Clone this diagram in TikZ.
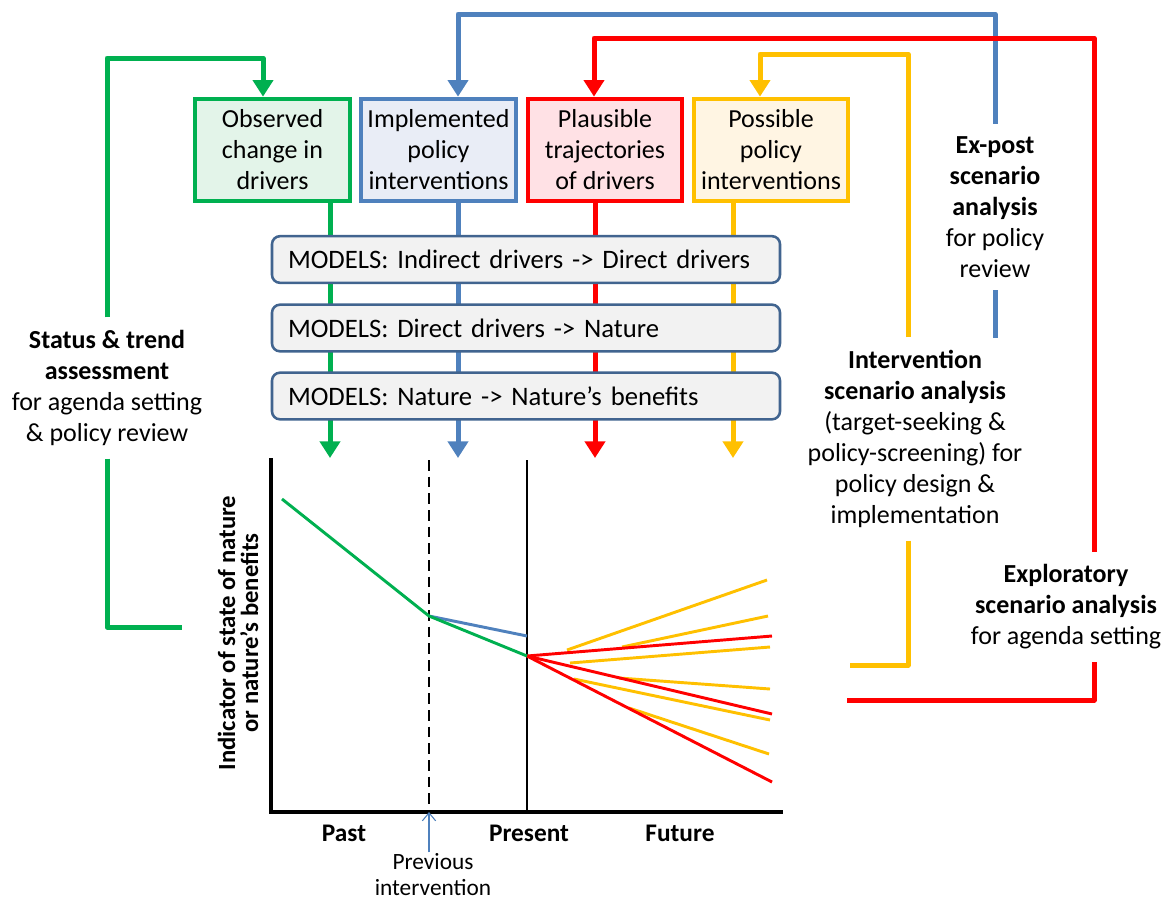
\documentclass[tikz,border=0pt]{standalone}
\usepackage{fontspec}
\setmainfont{Carlito}
\usetikzlibrary{arrows.meta}
\definecolor{cgreen}{HTML}{00B050}
\definecolor{cblue}{HTML}{4F81BD}
\definecolor{cred}{HTML}{FF0000}
\definecolor{cyellow}{HTML}{FFC000}
\definecolor{fgreen}{HTML}{E3F4E9}
\definecolor{fblue}{HTML}{E9EDF6}
\definecolor{fred}{HTML}{FFE1E5}
\definecolor{fyellow}{HTML}{FFF5E3}
\definecolor{mborder}{HTML}{41648F}
\definecolor{mfill}{HTML}{F2F2F2}
\begin{document}
\begin{tikzpicture}[x=0.75pt,y=-0.75pt,
  every node/.style={font=\fontsize{19.5}{23.25}\selectfont},
  topbox/.style={draw, line width=3pt, minimum width=116pt, minimum height=77pt, inner sep=0pt, align=center},
  modelbox/.style={draw=mborder, fill=mfill, line width=1.9pt, rounded corners=6pt, minimum height=35pt, inner xsep=12pt, text width=357pt, align=left, font=\fontsize{20}{24}\selectfont},
  conn/.style={line width=3.75pt, line join=round},
  tip/.style={-{Triangle[width=15pt,length=12.5pt]}},
  sidelabel/.style={align=center, inner xsep=0pt, inner ysep=9.5pt},
  curve/.style={line width=2.2pt},
  axislabel/.style={font=\fontsize{19}{23}\selectfont\bfseries}
]
\useasboundingbox (0,0) rectangle (1162,900);

% ---------- top boxes ----------
\node[topbox, draw=cgreen, fill=fgreen] (obs) at (272.5,150) {Observed\\change in\\drivers};
\node[topbox, draw=cblue, fill=fblue] (impl) at (438.5,150) {Implemented\\policy\\interventions};
\node[topbox, draw=cred, fill=fred] (plaus) at (605,150) {Plausible\\trajectories\\of drivers};
\node[topbox, draw=cyellow, fill=fyellow] (poss) at (771,150) {Possible\\policy\\interventions};

% ---------- side labels ----------
\node[sidelabel] (st) at (107,388) {\textbf{Status \& trend}\\\textbf{assessment}\\for agenda setting\\\& policy review};
\node[sidelabel] (ep) at (995,207) {\textbf{Ex-post}\\\textbf{scenario}\\\textbf{analysis}\\for policy\\review};
\node[sidelabel] (iv) at (915,439) {\textbf{Intervention}\\\textbf{scenario analysis}\\(target-seeking \&\\policy-screening) for\\policy design \&\\implementation};
\node[sidelabel] (ex) at (1066,607) {\textbf{Exploratory}\\\textbf{scenario analysis}\\for agenda setting};

% ---------- corner / end coordinates ----------
\coordinate (gA) at (107,58);  \coordinate (gB) at (263,58);
\coordinate (bA) at (995,14);  \coordinate (bB) at (458,14);
\coordinate (rA) at (1094,38); \coordinate (rB) at (594,38);
\coordinate (yA) at (908,54);  \coordinate (yB) at (760,54);
\coordinate (gEnd) at (182,627);
\coordinate (bEnd) at (995,338);
\coordinate (yEnd) at (850,665);
\coordinate (rEnd) at (847,700);
\coordinate (gT) at (330,458);
\coordinate (bT) at (458,458);
\coordinate (rT) at (595,458);
\coordinate (yT) at (733,458);

% ---------- feedback connectors ----------
\draw[conn, cgreen, tip] (st.north) -- (gA) -- (gB) -- (gB |- obs.north);
\draw[conn, cgreen] (st.south) |- (gEnd);
\draw[conn, cblue, tip] (ep.north) -- (bA) -- (bB) -- (bB |- impl.north);
\draw[conn, cblue] (ep.south) -- (bEnd);
\draw[conn, cred, tip] (rA |- ex.north) -- (rA) -- (rB) -- (rB |- plaus.north);
\draw[conn, cred] (rA |- ex.south) |- (rEnd);
\draw[conn, cyellow, tip] (yA |- iv.north) -- (yA) -- (yB) -- (yB |- poss.north);
\draw[conn, cyellow] (yA |- iv.south) |- (yEnd);

% ---------- downward arrows through models ----------
\draw[conn, cgreen, tip] (gT |- obs.south) -- (gT);
\draw[conn, cblue, tip] (bT |- impl.south) -- (bT);
\draw[conn, cred, tip] (rT |- plaus.south) -- (rT);
\draw[conn, cyellow, tip] (yT |- poss.south) -- (yT);

% ---------- model boxes ----------
\node[modelbox] (m1) at (526,259.5) {MODELS: Indirect drivers -> Direct drivers};
\node[modelbox] (m2) at (526,328) {MODELS: Direct drivers -> Nature};
\node[modelbox] (m3) at (526,396) {MODELS: Nature -> Nature’s benefits};

% ---------- chart ----------
\coordinate (O) at (271,812);
\coordinate (Ytop) at (271,460);
\coordinate (Xend) at (781,812);
\coordinate (Dtop) at (429,460);
\coordinate (Dbot) at (429,812);
\coordinate (Ptop) at (527,460);
\coordinate (Pbot) at (527,812);

\draw[line width=1.5pt, dash pattern=on 8pt off 4.5pt] (Dtop) -- (Dbot);
\draw[line width=1.5pt] (Ptop) -- (Pbot);

% yellow trajectories
\draw[curve, cyellow] (567,650) -- (767,580);
\draw[curve, cyellow] (622,647) -- (768,616);
\draw[curve, cyellow] (570,663) -- (770,647);
\draw[curve, cyellow] (619,678) -- (770,689);
\draw[curve, cyellow] (574,679) -- (770,720);
\draw[curve, cyellow] (629,708) -- (769,754);
% red trajectories
\draw[curve, cred] (527,656) -- (772,636);
\draw[curve, cred] (527,656) -- (772,714);
\draw[curve, cred] (527,656) -- (772,782);
% past
\draw[curve, cblue] (429,616) -- (527,636);
\draw[curve, cgreen, line join=round] (282,499) -- (429,616) -- (527,656);

\draw[line width=2.3pt, line cap=rect] (Ytop) -- (O) -- (Xend);

\node[axislabel] (past) at (344,833) {Past};
\node[axislabel] (pres) at (529,833) {Present};
\node[axislabel] (fut) at (680,833) {Future};
\node[axislabel, rotate=90, align=center, font=\fontsize{18.5}{17.25}\selectfont\bfseries] (ylab) at (238,633) {Indicator of state of nature\\or nature’s benefits};

\node[align=center, inner sep=1pt, font=\fontsize{17.5}{19.5}\selectfont] (prev) at (433,875) {Previous\\intervention};
\draw[cblue, line width=0.8pt, -{Straight Barb[length=6pt,width=10pt]}] (prev.north -| Dbot) -- (Dbot);
\end{tikzpicture}
\end{document}
